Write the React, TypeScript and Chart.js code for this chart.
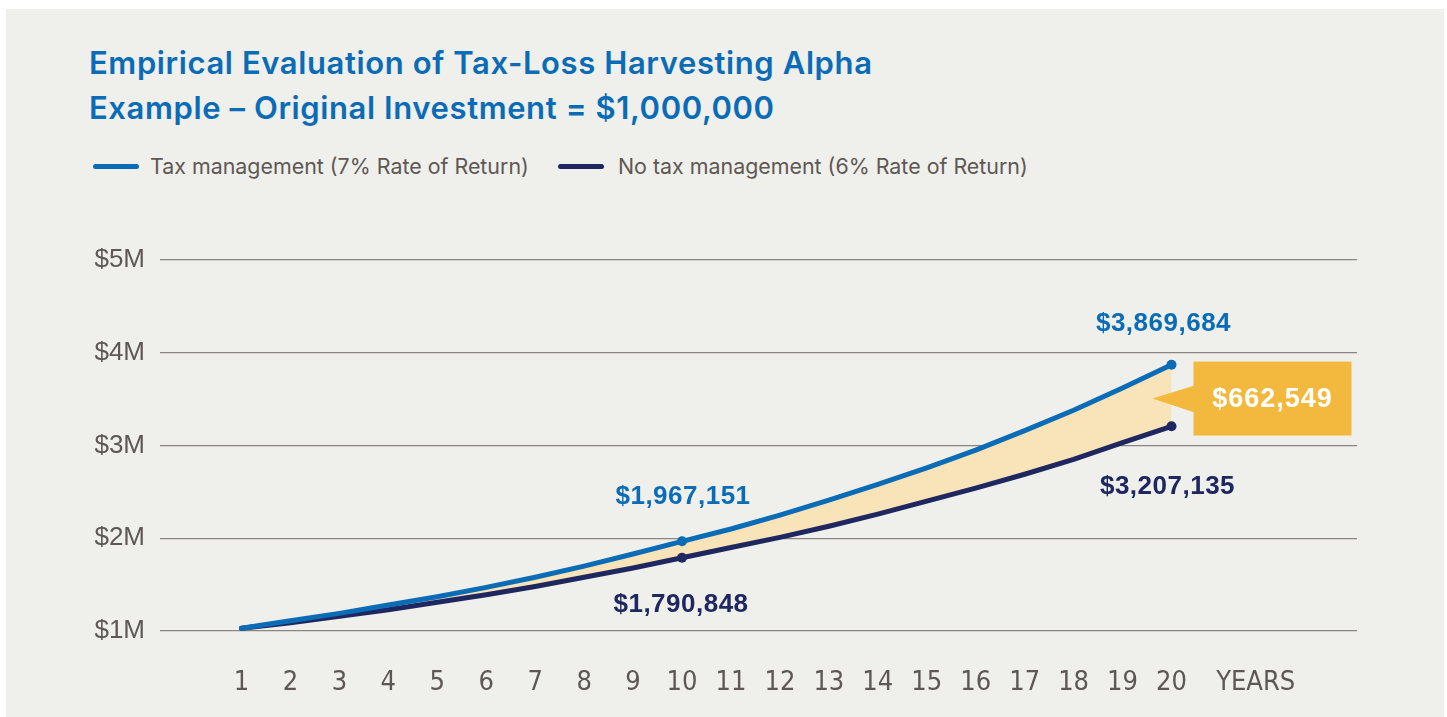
import React, { useEffect, useRef } from "react";
import { Chart, registerables } from "chart.js";

Chart.register(...registerables);

const years: number[] = [1, 2, 3, 4, 5, 6, 7, 8, 9, 10, 11, 12, 13, 14, 15, 16, 17, 18, 19, 20];
// values in $ millions
const taxManaged: number[] = [1.03, 1.11, 1.19, 1.28, 1.37, 1.47, 1.58, 1.70, 1.83, 1.967, 2.10, 2.25, 2.41, 2.58, 2.76, 2.95, 3.16, 3.38, 3.62, 3.87];
const noTaxManaged: number[] = [1.03, 1.09, 1.16, 1.23, 1.31, 1.39, 1.48, 1.58, 1.68, 1.79, 1.90, 2.01, 2.13, 2.26, 2.40, 2.54, 2.69, 2.85, 3.03, 3.207];
const yTickValues: number[] = [1, 2, 3, 4, 5];
const yTickLabels: string[] = ["$1M", "$2M", "$3M", "$4M", "$5M"];
const yearsAxisTitle = "YEARS";
const yearsAxisTitlePos = 21.72;
const markedIndices: number[] = [9, 19];
const taxManagedLabels: string[] = ["$1,967,151", "$3,869,684"];
const noTaxManagedLabels: string[] = ["$1,790,848", "$3,207,135"];
const differenceLabel = "$662,549";
const seriesNames: string[] = ["Tax management (7% Rate of Return)", "No tax management (6% Rate of Return)"];

const BLUE = "#0a6cb6";
const NAVY = "#1e2760";
const FILL = "#f9e3b9";
const GOLD = "#f3b93f";
const GREY_TEXT = "#5e5854";
const BG = "#efefeb";

const annotationPlugin = {
  id: "annotations",
  afterDatasetsDraw(chart: any) {
    const { ctx } = chart;
    const xs = chart.scales.x;
    const ys = chart.scales.y;
    ctx.save();
    ctx.font = "bold 26px 'Liberation Sans', Arial, sans-serif";
    (ctx as any).letterSpacing = "0.5px";
    ctx.textAlign = "center";
    ctx.textBaseline = "middle";
    const offsetsTop = [[1, -44], [-8, -41]];
    const offsetsBottom = [[-1, 47], [-4, 61]];
    markedIndices.forEach((idx, i) => {
      const x = xs.getPixelForValue(years[idx]);
      const yb = ys.getPixelForValue(taxManaged[idx]);
      const yn = ys.getPixelForValue(noTaxManaged[idx]);
      ctx.fillStyle = BLUE;
      ctx.fillText(taxManagedLabels[i], x + offsetsTop[i][0], yb + offsetsTop[i][1]);
      ctx.fillStyle = NAVY;
      ctx.fillText(noTaxManagedLabels[i], x + offsetsBottom[i][0], yn + offsetsBottom[i][1]);
    });
    // callout
    const last = years.length - 1;
    const lx = xs.getPixelForValue(years[last]);
    const ly = (ys.getPixelForValue(taxManaged[last]) + ys.getPixelForValue(noTaxManaged[last])) / 2 + 2;
    const tipX = lx - 19;
    const rectL = tipX + 41;
    const rectR = tipX + 199;
    const rectT = ly - 36;
    const rectB = ly + 38;
    ctx.fillStyle = GOLD;
    ctx.fillRect(rectL, rectT, rectR - rectL, rectB - rectT);
    ctx.beginPath();
    ctx.moveTo(tipX, ly + 1);
    ctx.lineTo(rectL + 1, ly - 12);
    ctx.lineTo(rectL + 1, ly + 15);
    ctx.closePath();
    ctx.fill();
    ctx.fillStyle = "#ffffff";
    (ctx as any).letterSpacing = "1px";
    ctx.font = "bold 27px 'Liberation Sans', Arial, sans-serif";
    ctx.fillText(differenceLabel, (rectL + rectR) / 2, ly + 2);
    ctx.restore();
  },
};

export default function App() {
  const canvasRef = useRef<HTMLCanvasElement | null>(null);

  useEffect(() => {
    const canvas = canvasRef.current;
    if (!canvas) return;
    const pointRadius = years.map((_, i) => (markedIndices.includes(i) ? 5 : 0));
    const chart = new Chart(canvas, {
      type: "line",
      data: {
        labels: years,
        datasets: [
          {
            label: seriesNames[0],
            data: years.map((y, i) => ({ x: y, y: taxManaged[i] })),
            borderColor: BLUE,
            backgroundColor: BLUE,
            borderWidth: 5,
            pointRadius,
            pointHoverRadius: pointRadius,
            pointBackgroundColor: BLUE,
            pointBorderWidth: 0,
            tension: 0,
            fill: { target: "+1", above: FILL, below: FILL },
            borderCapStyle: "round",
            borderJoinStyle: "round",
          },
          {
            label: seriesNames[1],
            data: years.map((y, i) => ({ x: y, y: noTaxManaged[i] })),
            borderColor: NAVY,
            backgroundColor: NAVY,
            borderWidth: 5,
            pointRadius,
            pointHoverRadius: pointRadius,
            pointBackgroundColor: NAVY,
            pointBorderWidth: 0,
            tension: 0,
            fill: false,
            borderCapStyle: "round",
            borderJoinStyle: "round",
          },
        ],
      },
      options: {
        animation: false,
        responsive: false,
        events: [],
        layout: { padding: { left: 0, right: 90, top: 260, bottom: 0 } },
        plugins: {
          legend: { display: false },
          tooltip: { enabled: false },
          title: { display: false },
          filler: { drawTime: "beforeDatasetsDraw" },
        },
        scales: {
          x: {
            type: "linear",
            min: -0.665,
            max: 23.79,
            grid: { display: false, drawTicks: false },
            border: { display: false },
            afterFit: (scale: any) => {
              scale.height = 86;
            },
            afterBuildTicks: (scale: any) => {
              scale.ticks = [...years, yearsAxisTitlePos].map((v) => ({ value: v }));
            },
            ticks: {
              autoSkip: false,
              maxRotation: 0,
              padding: 36,
              color: GREY_TEXT,
              font: { family: "'Liberation Sans Narrow', 'DejaVu Sans Condensed', sans-serif", size: 27 },
              callback: (v: any) => (v === yearsAxisTitlePos ? yearsAxisTitle : String(v)),
            },
          },
          y: {
            type: "linear",
            min: 1,
            max: 5,
            grid: { color: "#8a8580", lineWidth: 1.3, drawTicks: false },
            border: { display: false },
            afterFit: (scale: any) => {
              scale.width = 160;
            },
            afterBuildTicks: (scale: any) => {
              scale.ticks = yTickValues.map((v) => ({ value: v }));
            },
            ticks: {
              padding: 15,
              color: GREY_TEXT,
              font: { family: "'Liberation Sans', Arial, sans-serif", size: 26 },
              callback: (v: any) => yTickLabels[yTickValues.indexOf(Number(v))] ?? "",
            },
          },
        },
      },
      plugins: [annotationPlugin],
    } as any);
    return () => chart.destroy();
  }, []);

  const legendText: React.CSSProperties = {
    position: "absolute",
    top: 154,
    fontFamily: "Inter, 'Open Sans', sans-serif",
    fontSize: 21.4,
    lineHeight: "24px",
    color: GREY_TEXT,
    whiteSpace: "nowrap",
  };
  const legendLine = (left: number, color: string): React.CSSProperties => ({
    position: "absolute",
    left,
    top: 164,
    width: 46,
    height: 5,
    borderRadius: 3,
    background: color,
  });

  return (
    <div style={{ position: "fixed", left: 0, top: 0, width: 1447, height: 717, background: "#ffffff", overflow: "hidden" }}>
      <div style={{ position: "absolute", left: 6, top: 9, width: 1438, height: 708, background: BG }} />
      <div
        style={{
          position: "absolute",
          left: 89,
          top: 40,
          fontFamily: "Inter, 'Open Sans', sans-serif",
          fontWeight: 600,
          fontSize: 31,
          lineHeight: "45px",
          letterSpacing: "0.6px",
          color: BLUE,
          whiteSpace: "nowrap",
        }}
      >
        <div>Empirical Evaluation of Tax-Loss Harvesting Alpha</div>
        <div>Example – Original Investment = $1,000,000</div>
      </div>
      <div style={legendLine(93, BLUE)} />
      <div style={{ ...legendText, left: 150 }}>{seriesNames[0]}</div>
      <div style={legendLine(558, NAVY)} />
      <div style={{ ...legendText, left: 618 }}>{seriesNames[1]}</div>
      <canvas ref={canvasRef} width={1447} height={717} style={{ position: "absolute", left: 0, top: 0, width: 1447, height: 717 }} />
    </div>
  );
}
